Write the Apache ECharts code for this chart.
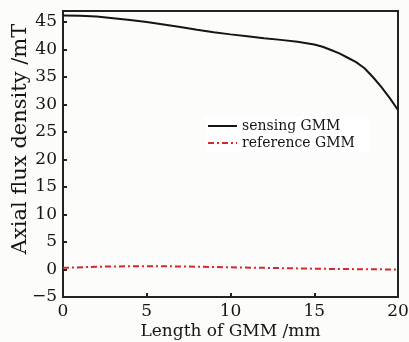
<!DOCTYPE html>
<html><head><meta charset="utf-8">
<script src="https://cdn.jsdelivr.net/npm/echarts@6/dist/echarts.min.js"></script>
<style>html,body{margin:0;padding:0;background:#fcfcfa;}#c{width:409px;height:342px;}</style>
</head><body><div id="c"></div>
<script>
const sensingX = [0, 1, 2, 3, 4, 5, 6, 7, 8, 9, 10, 11, 12, 13, 14, 15, 15.5, 16, 16.5, 17, 17.5, 18, 18.5, 19, 19.5, 20];
const sensingY = [46.2, 46.15, 46.0, 45.7, 45.35, 45.0, 44.55, 44.1, 43.6, 43.15, 42.75, 42.4, 42.05, 41.75, 41.4, 40.9, 40.5, 39.9, 39.3, 38.5, 37.7, 36.6, 35.0, 33.2, 31.2, 29.0];
const refX = [0, 2, 4, 6, 8, 10, 12, 14, 16, 18, 20];
const refY = [0.3, 0.5, 0.6, 0.6, 0.5, 0.4, 0.3, 0.2, 0.1, 0.05, 0.0];
const seriesNames = ['sensing GMM', 'reference GMM'];
const xTitle = 'Length of GMM /mm';
const yTitle = 'Axial flux density /mT';

const font = 'DejaVu Serif';
const ink = '#151515';
const chart = echarts.init(document.getElementById('c'), null, {renderer: 'canvas'});
chart.setOption({
  backgroundColor: '#fcfcfa',
  animation: false,
  grid: {left: 63, right: 11, top: 11, bottom: 45, outerBoundsMode: 'none', containLabel: false,
         show: true, borderColor: '#222', borderWidth: 2, backgroundColor: 'transparent'},
  legend: {
    orient: 'vertical', left: 205, top: 117, itemWidth: 29, itemHeight: 14, itemGap: 3,
    backgroundColor: '#ffffff', padding: [2, 14, 2, 2],
    itemStyle: {opacity: 0},
    textStyle: {fontFamily: font, fontSize: 14, color: ink},
    data: seriesNames
  },
  xAxis: {
    type: 'value', min: 0, max: 20, interval: 5,
    name: xTitle, nameLocation: 'middle', nameGap: 26, nameMoveOverlap: false,
    nameTextStyle: {fontFamily: font, fontSize: 17, color: ink},
    axisLine: {onZero: false, lineStyle: {color: '#222', width: 2}},
    axisTick: {inside: true, length: 4, lineStyle: {color: '#222', width: 2}},
    axisLabel: {fontFamily: font, fontSize: 17, color: ink, margin: 6},
    splitLine: {show: false}
  },
  yAxis: {
    type: 'value', min: -5, max: 47, interval: 5,
    name: yTitle, nameLocation: 'middle', nameGap: 32, nameRotate: 90, nameMoveOverlap: false,
    nameTextStyle: {fontFamily: font, fontSize: 21, color: ink, padding: [0, 0, 0, 30]},
    axisLine: {onZero: false, lineStyle: {color: '#222', width: 2}},
    axisTick: {inside: true, length: 4, lineStyle: {color: '#222', width: 2}},
    axisLabel: {fontFamily: font, fontSize: 17, color: ink, margin: 6,
      formatter: v => (v % 5 !== 0) ? '' : String(v).replace('-', '\u2212')},
    splitLine: {show: false}
  },
  series: [
    {name: seriesNames[0], type: 'line', showSymbol: false, symbol: 'none',
     data: sensingX.map((x, i) => [x, sensingY[i]]),
     lineStyle: {color: '#151515', width: 2}, itemStyle: {color: '#151515'}},
    {name: seriesNames[1], type: 'line', showSymbol: false, symbol: 'none',
     data: refX.map((x, i) => [x, refY[i]]),
     lineStyle: {color: '#d9262c', width: 2, type: [6, 3, 2, 3]}, itemStyle: {color: '#d9262c'}}
  ]
});
</script></body></html>
